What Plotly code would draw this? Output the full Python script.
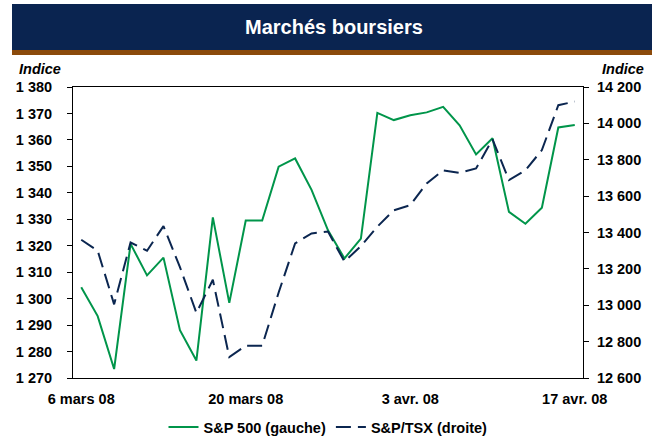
import plotly.graph_objects as go

# Trading days (31 points, 6 Mar 2008 .. 17 Apr 2008; Good Friday repeated)
dates = ["2008-03-06", "2008-03-07", "2008-03-10", "2008-03-11", "2008-03-12", "2008-03-13",
         "2008-03-14", "2008-03-17", "2008-03-18", "2008-03-19", "2008-03-20", "2008-03-21",
         "2008-03-24", "2008-03-25", "2008-03-26", "2008-03-27", "2008-03-28", "2008-03-31",
         "2008-04-01", "2008-04-02", "2008-04-03", "2008-04-04", "2008-04-07", "2008-04-08",
         "2008-04-09", "2008-04-10", "2008-04-11", "2008-04-14", "2008-04-15", "2008-04-16",
         "2008-04-17"]

sp500 = [1304.3, 1293.4, 1273.4, 1320.7, 1308.8, 1315.5, 1288.1, 1276.6, 1330.7, 1298.4,
         1329.5, 1329.5, 1349.9, 1353.0, 1341.1, 1325.8, 1315.2, 1322.7, 1370.2, 1367.5,
         1369.3, 1370.4, 1372.5, 1365.5, 1354.5, 1360.6, 1332.8, 1328.3, 1334.4, 1364.7,
         1365.6]

tsx = [13360, 13300, 13005, 13345, 13300, 13435, 13210, 12958, 13140, 12715,
       12778, 12778, 13070, 13340, 13395, 13405, 13240, 13325, 13432, 13522,
       13550, 13670, 13742, 13728, 13752, 13912, 13688, 13742, 13853, 14100,
       14120]

tick_idx = [0, 10, 20, 30]
tick_text = ["6 mars 08", "20 mars 08", "3 avr. 08", "17 avr. 08"]

x = list(range(len(dates)))

GREEN = "#00954A"
NAVY = "#0B2650"
FONT = "Liberation Sans, Arial, sans-serif"
FS = 14.5

fig = go.Figure()
fig.add_trace(go.Scatter(x=x, y=sp500, mode="lines", name="S&P 500 (gauche)",
                         line=dict(color=GREEN, width=2), customdata=dates))
fig.add_trace(go.Scatter(x=x, y=tsx, mode="lines", name="S&P/TSX (droite)", yaxis="y2",
                         line=dict(color=NAVY, width=2, dash="15px,7px"), customdata=dates))

W, H = 652, 438
L, R, T, B = 73, 583, 87, 378
pw, ph = R - L, B - T

def px(xp):
    return (xp - L) / pw

def py(yp):
    return (B - yp) / ph

tickfont = dict(family=FONT, size=FS, weight="bold", color="black")

fig.update_layout(
    width=W, height=H,
    margin=dict(l=L, r=W - R, t=T, b=H - B, pad=0, autoexpand=False),
    paper_bgcolor="white", plot_bgcolor="white",
    separators=", ",
    font=dict(family=FONT, color="black", size=FS),
    showlegend=True,
    legend=dict(orientation="h", x=0.5, xanchor="center", y=py(427), yanchor="middle",
                font=tickfont, bgcolor="rgba(0,0,0,0)", itemwidth=30, tracegroupgap=0),
    xaxis=dict(range=[-0.5, len(x) - 0.5], showgrid=False, zeroline=False,
               showline=True, linecolor="black", linewidth=1, mirror=True,
               tickvals=tick_idx, ticktext=tick_text, ticks="",
               tickfont=tickfont, ticklabelstandoff=8),
    yaxis=dict(range=[1270, 1380], dtick=10, tickformat=",d", showgrid=False, zeroline=False,
               showline=True, linecolor="black", linewidth=1,
               ticks="outside", ticklen=5, tickcolor="black",
               tickfont=tickfont, ticklabelstandoff=12),
    yaxis2=dict(range=[12600, 14200], dtick=200, tickformat=",d", overlaying="y", side="right",
                showgrid=False, zeroline=False, showline=True, linecolor="black", linewidth=1,
                ticks="outside", ticklen=5, tickcolor="black",
                tickfont=tickfont, ticklabelstandoff=5),
    shapes=[
        dict(type="rect", xref="paper", yref="paper", x0=px(12), x1=px(652), y0=py(50), y1=py(4),
             fillcolor="#0A2450", line=dict(width=0), layer="above"),
        dict(type="rect", xref="paper", yref="paper", x0=px(12), x1=px(652), y0=py(55), y1=py(50),
             fillcolor="#8B4A0B", line=dict(width=0), layer="above"),
    ],
    annotations=[
        dict(text="Marchés boursiers", xref="paper", yref="paper", x=px(334), y=py(27),
             xanchor="center", yanchor="middle", showarrow=False,
             font=dict(family=FONT, size=20, weight="bold", color="white")),
        dict(text="<i>Indice</i>", xref="paper", yref="paper", x=px(17), y=py(69),
             xanchor="left", yanchor="middle", showarrow=False,
             font=dict(family=FONT, size=FS, weight="bold", color="black")),
        dict(text="<i>Indice</i>", xref="paper", yref="paper", x=px(646), y=py(69),
             xanchor="right", yanchor="middle", showarrow=False,
             font=dict(family=FONT, size=FS, weight="bold", color="black")),
    ],
)

fig.write_html(
    "out.html",
    config={"displayModeBar": False},
    post_script="document.body.style.margin='0';document.body.style.overflow='hidden';",
)
